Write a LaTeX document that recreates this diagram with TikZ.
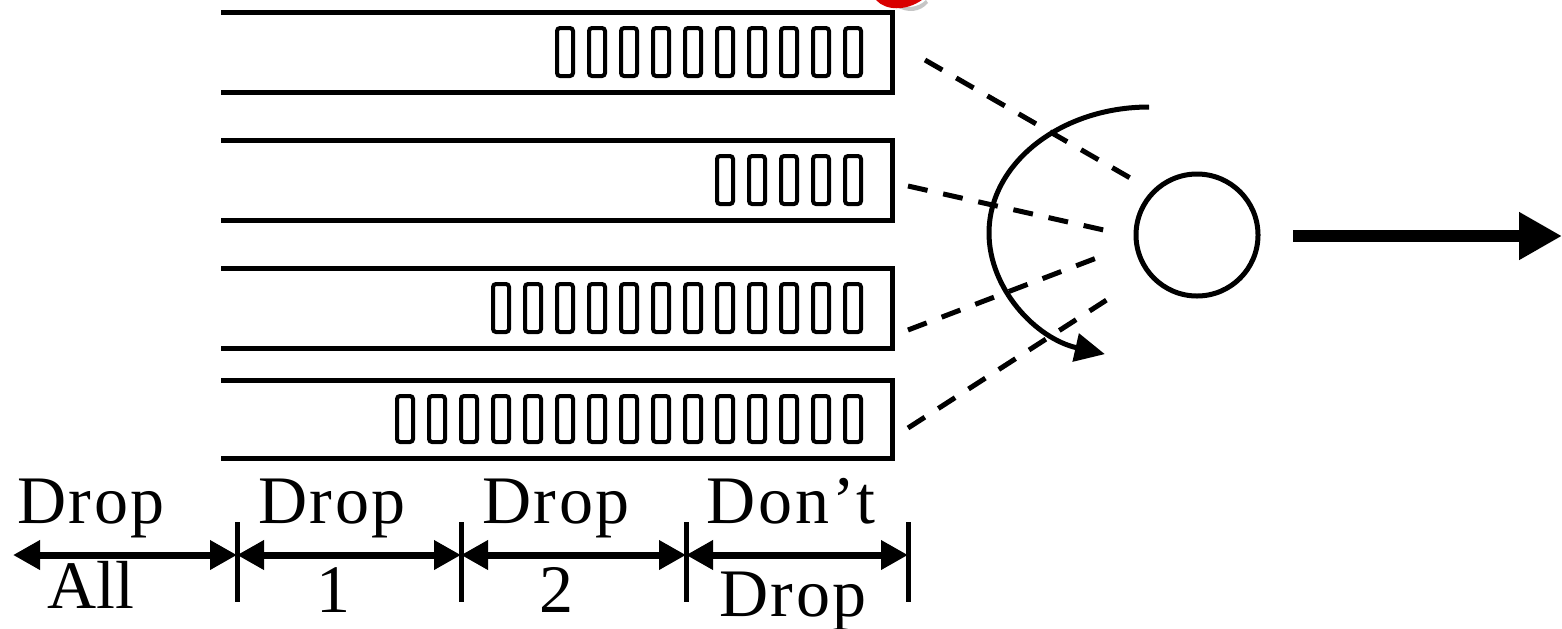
\documentclass[tikz,border=0pt]{standalone}
\usepackage{fontspec}
\setmainfont{Liberation Serif}
\usetikzlibrary{arrows.meta}
\begin{document}
\begin{tikzpicture}[x=0.5pt,y=-0.5pt,
  queueline/.style={line width=2.5pt},
  cellbox/.style={line width=2pt, rounded corners=1.5pt},
  feed/.style={line width=2.5pt, dash pattern=on 10pt off 8pt},
  tickline/.style={line width=2.5pt},
  dimarrow/.style={line width=3.5pt, {Triangle[length=13.5pt,width=14pt]}-{Triangle[length=13.5pt,width=14pt]}},
  lbl/.style={font=\fontsize{34}{40}\selectfont, inner sep=0pt, anchor=base},
  wide/.style={font=\fontsize{34}{40}\selectfont\addfontfeature{LetterSpace=4}}]
\useasboundingbox (0,0) rectangle (1562,628);

% red fragment at top
\fill[gray!45] (895,6) .. controls (908,14) and (920,12) .. (928,3) -- (926,0) .. controls (918,8) and (905,9) .. (895,4) -- cycle;
\fill[red!85!black] (876,0) .. controls (886,11) and (906,11) .. (922,0) -- cycle;

% queues
\foreach \n/\t/\b in {10/12/92, 5/140/220, 12/268/348, 15/380/458}{
  \draw[queueline] (221,\t) -- (892,\t) -- (892,\b) -- (221,\b);
  \pgfmathtruncatemacro{\last}{\n-1}
  \foreach \k in {0,...,\last}{
    \draw[cellbox] ({845-32*\k},{\t+16}) rectangle ({861-32*\k},{\b-16});
  }
}

% server
\node[circle, draw, line width=2.5pt, minimum size=61pt, inner sep=0pt] (srv) at (1197,235) {};

% dashed feeds
\coordinate (q1) at (925,60);   \coordinate (e1) at (1132,179);
\coordinate (q2) at (908,186);  \coordinate (e2) at (1117,233);
\coordinate (q3) at (908,330);  \coordinate (e3) at (1107,254);
\coordinate (q4) at (908,428);  \coordinate (e4) at (1119,292);
\draw[feed] (q1) -- (e1);
\draw[feed] (q2) -- (e2);
\draw[feed] (q3) -- (e3);
\draw[feed] (q4) -- (e4);

% round robin arc
\coordinate (rrstart) at (1149,107);
\draw[line width=2.5pt, -{Triangle[length=15pt,width=14pt]}] (rrstart) arc[start angle=270, end angle=106, x radius=160, y radius=126];

% output arrow
\coordinate (outs) at (1293,236);
\coordinate (oute) at (1562,236);
\draw[line width=6pt, -{Triangle[length=21.5pt,width=22.5pt]}] (outs) -- (oute);

% thresholds
\foreach \x/\nm in {237/1, 461/2, 686/3, 908/4}{
  \coordinate (ta\nm) at (\x,522);
  \coordinate (tb\nm) at (\x,602);
  \coordinate (m\nm) at (\x,555);
  \draw[tickline] (ta\nm) -- (tb\nm);
}
\coordinate (m0) at (13,555);
\draw[dimarrow] (m0) -- (m1);
\draw[dimarrow] (m1) -- (m2);
\draw[dimarrow] (m2) -- (m3);
\draw[dimarrow] (m3) -- (m4);

% labels
\node[lbl,wide] (a1) at (91,523) {Drop};
\node[lbl] (a2) at (91,608) {All};
\node[lbl,wide] (b1) at (332,523) {Drop};
\node[lbl] (b2) at (333,612) {1};
\node[lbl,wide] (c1) at (556,523) {Drop};
\node[lbl] (c2) at (556,612) {2};
\node[lbl,wide] (d1) at (791,523) {Don’t};
\node[lbl,wide] (d2) at (793,616) {Drop};
\end{tikzpicture}
\end{document}
